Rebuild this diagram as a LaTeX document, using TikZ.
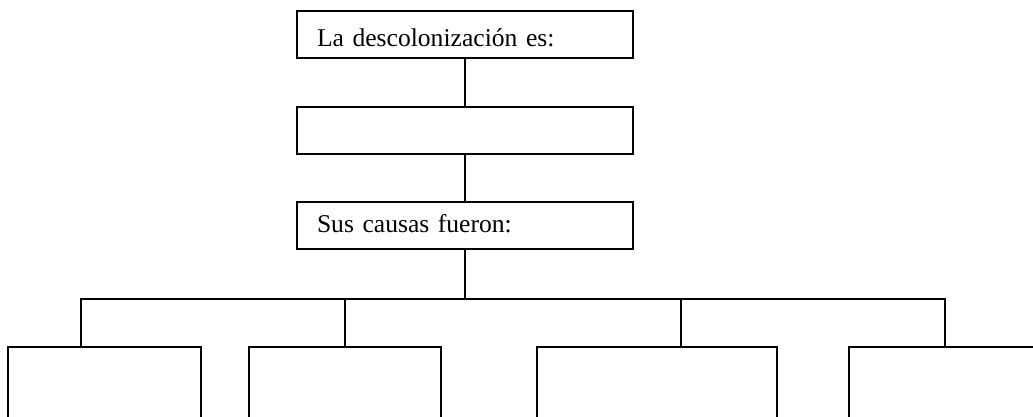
\documentclass[tikz,border=0pt]{standalone}
\usepackage{fontspec}
\setmainfont{Liberation Serif}
\begin{document}
\begin{tikzpicture}[x=1pt,y=-1pt,line width=1.7pt,
  txtbox/.style={draw, rectangle, inner xsep=20pt, inner ysep=0pt,
    text width=296pt, minimum height=47pt, align=left,
    font=\fontsize{25.6pt}{30pt}\selectfont},
  leaf/.style={draw, rectangle, inner sep=0pt, minimum height=120pt}]
\useasboundingbox (0,0) rectangle (1033,417);
\clip (0,0) rectangle (1033,417);
\node[txtbox, text height=24.5pt, text depth=0pt] (top) at (465,34.5) {La descolonización es:};
\node[txtbox] (mid) at (465,130.5) {};
\node[txtbox, text height=14.4pt, text depth=0pt] (causes) at (465,225.5) {Sus causas fueron:};
\node[leaf, minimum width=193pt] (b1) at (104.5,407) {};
\node[leaf, minimum width=192pt] (b2) at (345,407) {};
\node[leaf, minimum width=240pt] (b3) at (657,407) {};
\node[leaf, minimum width=192pt] (b4) at (945,407) {};
\coordinate (bus) at (465,299);
\coordinate (j1) at (81,299);
\coordinate (j2) at (345,299);
\coordinate (j3) at (681,299);
\coordinate (j4) at (945,299);
\draw (top.south) -- (mid.north);
\draw (mid.south) -- (causes.north);
\draw (causes.south) -- (bus);
\draw (b1.north -| j1) -- (j1) -- (j4) -- (b4.north -| j4);
\draw (j2) -- (b2.north);
\draw (j3) -- (b3.north -| j3);
\end{tikzpicture}
\end{document}
